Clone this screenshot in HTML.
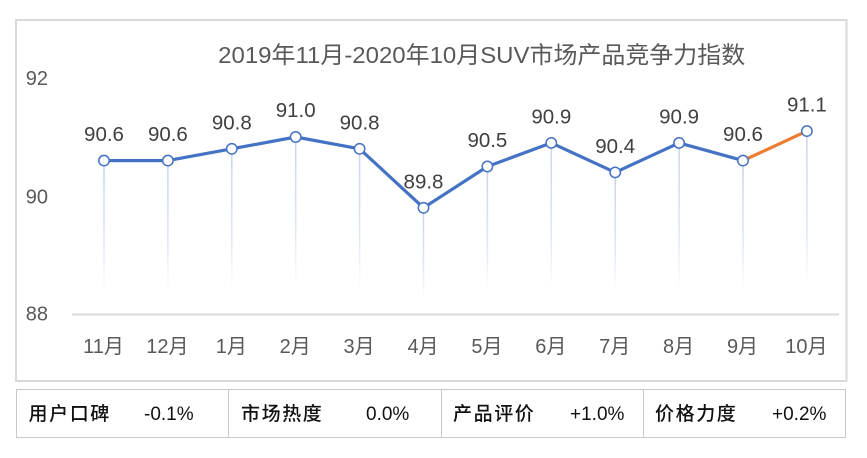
<!DOCTYPE html>
<html><head><meta charset="utf-8"><style>
html,body{margin:0;padding:0;background:#fff;}
svg{display:block;}
</style></head><body>
<svg width="867" height="458" viewBox="0 0 867 458" xmlns="http://www.w3.org/2000/svg">
<defs>
<linearGradient id="dg" x1="0" y1="0" x2="0" y2="1">
<stop offset="0" stop-color="#c6d4ed"/>
<stop offset="0.55" stop-color="#dfe7f5"/>
<stop offset="0.85" stop-color="#ffffff"/>
</linearGradient>
</defs>
<rect x="0" y="0" width="867" height="458" fill="#fff"/>
<rect x="16" y="20" width="830.5" height="361" fill="none" stroke="#d9d9d9" stroke-width="2"/>
<text x="481.7" y="63" text-anchor="middle" textLength="527" lengthAdjust="spacingAndGlyphs" font-family="'Liberation Sans','Noto Sans CJK SC',sans-serif" font-size="23.5" fill="#595959">2019年11月-2020年10月SUV市场产品竞争力指数</text>
<g font-family="'Liberation Sans',sans-serif" font-size="20" fill="#595959" text-anchor="end">
<text x="48" y="85">92</text>
<text x="48" y="203.5">90</text>
<text x="48" y="320.5">88</text>
</g>
<g>
<rect x="103.25" y="160.6" width="1.5" height="153.4" fill="url(#dg)"/>
<rect x="167.15" y="160.6" width="1.5" height="153.4" fill="url(#dg)"/>
<rect x="231.05" y="148.8" width="1.5" height="165.2" fill="url(#dg)"/>
<rect x="294.95" y="137" width="1.5" height="177" fill="url(#dg)"/>
<rect x="358.85" y="148.8" width="1.5" height="165.2" fill="url(#dg)"/>
<rect x="422.75" y="207.8" width="1.5" height="106.2" fill="url(#dg)"/>
<rect x="486.65" y="166.5" width="1.5" height="147.5" fill="url(#dg)"/>
<rect x="550.55" y="142.9" width="1.5" height="171.1" fill="url(#dg)"/>
<rect x="614.45" y="172.4" width="1.5" height="141.6" fill="url(#dg)"/>
<rect x="678.35" y="142.9" width="1.5" height="171.1" fill="url(#dg)"/>
<rect x="742.25" y="160.6" width="1.5" height="153.4" fill="url(#dg)"/>
<rect x="806.15" y="131.1" width="1.5" height="182.9" fill="url(#dg)"/>
</g>
<line x1="72" y1="314.5" x2="839" y2="314.5" stroke="#d9d9d9" stroke-width="2"/>
<polyline points="104,160.6 167.9,160.6 231.8,148.8 295.7,137 359.6,148.8 423.5,207.8 487.4,166.5 551.3,142.9 615.2,172.4 679.1,142.9 743,160.6" fill="none" stroke="#4472c4" stroke-width="3.2" stroke-linejoin="round"/>
<line x1="743" y1="160.6" x2="806.9" y2="131.1" stroke="#ed7d31" stroke-width="3.2"/>
<g fill="#fff" stroke="#4472c4" stroke-width="1.5">
<circle cx="104" cy="160.6" r="5.2"/>
<circle cx="167.9" cy="160.6" r="5.2"/>
<circle cx="231.8" cy="148.8" r="5.2"/>
<circle cx="295.7" cy="137" r="5.2"/>
<circle cx="359.6" cy="148.8" r="5.2"/>
<circle cx="423.5" cy="207.8" r="5.2"/>
<circle cx="487.4" cy="166.5" r="5.2"/>
<circle cx="551.3" cy="142.9" r="5.2"/>
<circle cx="615.2" cy="172.4" r="5.2"/>
<circle cx="679.1" cy="142.9" r="5.2"/>
<circle cx="743" cy="160.6" r="5.2"/>
<circle cx="806.9" cy="131.1" r="5.2"/>
</g>
<g font-family="'Liberation Sans',sans-serif" font-size="20.5" fill="#404040" text-anchor="middle">
<text x="104" y="141.2">90.6</text>
<text x="167.9" y="141.2">90.6</text>
<text x="231.8" y="129.4">90.8</text>
<text x="295.7" y="117.2">91.0</text>
<text x="359.6" y="129.4">90.8</text>
<text x="423.5" y="188.4">89.8</text>
<text x="487.4" y="147.1">90.5</text>
<text x="551.3" y="123.5">90.9</text>
<text x="615.2" y="153">90.4</text>
<text x="679.1" y="123.5">90.9</text>
<text x="743" y="141.2">90.6</text>
<text x="806.9" y="111.7">91.1</text>
</g>
<g font-family="'Liberation Sans','Noto Sans CJK SC',sans-serif" font-size="20" fill="#595959" text-anchor="middle">
<text x="103.5" y="353">11月</text>
<text x="167.4" y="353">12月</text>
<text x="231.3" y="353">1月</text>
<text x="295.2" y="353">2月</text>
<text x="359.1" y="353">3月</text>
<text x="423" y="353">4月</text>
<text x="486.9" y="353">5月</text>
<text x="550.8" y="353">6月</text>
<text x="614.7" y="353">7月</text>
<text x="678.6" y="353">8月</text>
<text x="742.5" y="353">9月</text>
<text x="806.4" y="353">10月</text>
</g>
<rect x="16.5" y="389.5" width="829" height="48" fill="#fff" stroke="#c8c8c8" stroke-width="1"/>
<line x1="228.5" y1="389.5" x2="228.5" y2="437.5" stroke="#c8c8c8" stroke-width="1"/>
<line x1="441.5" y1="389.5" x2="441.5" y2="437.5" stroke="#c8c8c8" stroke-width="1"/>
<line x1="643.5" y1="389.5" x2="643.5" y2="437.5" stroke="#c8c8c8" stroke-width="1"/>
<g font-family="'Liberation Sans','Noto Sans CJK SC',sans-serif" font-size="19" fill="#111">
<text x="28.5" y="420" letter-spacing="1.6" font-weight="500">用户口碑</text>
<text x="144" y="420">-0.1%</text>
<text x="241" y="420" letter-spacing="1.6" font-weight="500">市场热度</text>
<text x="366" y="420">0.0%</text>
<text x="453" y="420" letter-spacing="1.6" font-weight="500">产品评价</text>
<text x="570" y="420">+1.0%</text>
<text x="655" y="420" letter-spacing="1.6" font-weight="500">价格力度</text>
<text x="772" y="420">+0.2%</text>
</g>
</svg>
</body></html>
